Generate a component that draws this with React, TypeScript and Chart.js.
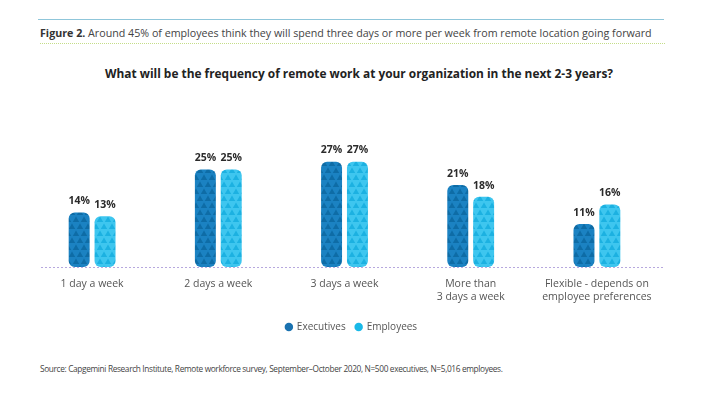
import React, { useEffect, useRef } from "react";
import { Chart, registerables } from "chart.js";

Chart.register(...registerables);

const categories: (string | string[])[] = [
  "1 day a week",
  "2 days a week",
  "3 days a week",
  ["More than", "3 days a week"],
  ["Flexible - depends on", "employee preferences"],
];
const executives = [14, 25, 27, 21, 11];
const employees = [13, 25, 27, 18, 16];
const seriesNames = ["Executives", "Employees"];

const FONT = "'Open Sans', 'Noto Sans', sans-serif";
const EXEC_COLOR = "#1b82c2";
const EXEC_TRI = "#0e6ca6";
const EMP_COLOR = "#3ec6ef";
const EMP_TRI = "#1cb1e1";

function makePattern(base: string, tri: string): CanvasPattern | string {
  const c = document.createElement("canvas");
  c.width = 8;
  c.height = 14;
  const ctx = c.getContext("2d");
  if (!ctx) return base;
  ctx.fillStyle = base;
  ctx.fillRect(0, 0, 8, 14);
  ctx.fillStyle = tri;
  const tri1 = (cx: number, top: number) => {
    ctx.beginPath();
    ctx.moveTo(cx - 3.2, top + 6);
    ctx.lineTo(cx, top + 0.5);
    ctx.lineTo(cx + 3.2, top + 6);
    ctx.closePath();
    ctx.fill();
  };
  tri1(4, 0);
  tri1(0, 7);
  tri1(8, 7);
  const p = ctx.createPattern(c, "repeat");
  return p || base;
}

const labelPlugin = {
  id: "valueLabels",
  afterDatasetsDraw(chart: any) {
    const ctx = chart.ctx;
    ctx.save();
    ctx.font = `bold 10.5px ${FONT}`;
    ctx.fillStyle = "#2b2b2b";
    ctx.textAlign = "center";
    ctx.textBaseline = "bottom";
    chart.data.datasets.forEach((ds: any, i: number) => {
      const meta = chart.getDatasetMeta(i);
      meta.data.forEach((el: any, j: number) => {
        ctx.fillText(ds.data[j] + "%", el.x, el.y - 6);
      });
    });
    ctx.restore();
  },
};

const baselinePlugin = {
  id: "baseline",
  beforeDatasetsDraw(chart: any) {
    const { ctx, chartArea, scales } = chart;
    const y = Math.round(scales.y.getPixelForValue(0)) + 0.5;
    ctx.save();
    ctx.strokeStyle = "#b7a8de";
    ctx.lineWidth = 1;
    ctx.setLineDash([2, 2]);
    ctx.beginPath();
    ctx.moveTo(chartArea.left + 12, y);
    ctx.lineTo(chartArea.right + 3, y);
    ctx.stroke();
    ctx.restore();
  },
};

const legendShiftPlugin = {
  id: "legendShift",
  afterLayout(chart: any) {
    if (chart.legend) {
      chart.legend.left += 7;
      chart.legend.right += 7;
    }
  },
};

function BarChart() {
  const ref = useRef<HTMLCanvasElement>(null);
  useEffect(() => {
    if (!ref.current) return;
    const execPattern = makePattern(EXEC_COLOR, EXEC_TRI);
    const empPattern = makePattern(EMP_COLOR, EMP_TRI);
    const chart = new Chart(ref.current, {
      type: "bar",
      data: {
        labels: categories,
        datasets: [
          {
            label: seriesNames[0],
            data: executives,
            backgroundColor: execPattern as any,
            borderRadius: 6,
            borderSkipped: false,
            categoryPercentage: 0.41,
            barPercentage: 0.81,
          },
          {
            label: seriesNames[1],
            data: employees,
            backgroundColor: empPattern as any,
            borderRadius: 6,
            borderSkipped: false,
            categoryPercentage: 0.41,
            barPercentage: 0.81,
          },
        ],
      },
      options: {
        animation: false,
        responsive: true,
        maintainAspectRatio: false,
        layout: { padding: { left: 29, right: 54, top: 60, bottom: 8 } },
        scales: {
          x: {
            grid: { display: false },
            border: { display: false },
            ticks: {
              color: "#555",
              font: { family: FONT, size: 10.5, lineHeight: 1.25 },
              padding: 2,
              maxRotation: 0,
              autoSkip: false,
            },
            afterFit: (s: any) => {
              s.height = 45;
            },
          },
          y: {
            display: false,
            min: 0,
            max: 30,
          },
        },
        plugins: {
          legend: {
            position: "bottom",
            labels: {
              usePointStyle: true,
              pointStyle: "circle",
              boxWidth: 6,
              boxHeight: 6,
              padding: 10,
              color: "#555",
              font: { family: FONT, size: 10 },
              generateLabels: (chart: any) => {
                const items = Chart.defaults.plugins.legend.labels.generateLabels(chart);
                const cols = ["#1a72b0", "#19b9e8"];
                return items.map((it: any, i: number) => ({
                  ...it,
                  fillStyle: cols[i],
                  strokeStyle: cols[i],
                  lineWidth: 0,
                }));
              },
            },
          },
          tooltip: { enabled: false },
        },
      },
      plugins: [labelPlugin, baselinePlugin, legendShiftPlugin],
    });
    return () => chart.destroy();
  }, []);
  return <canvas ref={ref} />;
}

export default function App() {
  return (
    <div
      style={{
        position: "absolute",
        left: 0,
        top: 0,
        width: 714,
        height: 396,
        background: "#fff",
        fontFamily: FONT,
        overflow: "hidden",
      }}
    >
      <div
        style={{
          position: "absolute",
          left: 38,
          top: 19,
          width: 626,
          height: 0,
          borderTop: "1.5px solid #8fc6da",
        }}
      />
      <div
        style={{
          position: "absolute",
          left: 40,
          top: 25,
          fontSize: 10.7,
          color: "#444",
          whiteSpace: "nowrap",
          lineHeight: "16px",
        }}
      >
        <b style={{ color: "#333" }}>Figure 2.</b> Around 45% of employees think they will spend three days or more per
        week from remote location going forward
      </div>
      <div
        style={{
          position: "absolute",
          left: 40,
          top: 43,
          width: 625,
          height: 0,
          borderTop: "1.5px dotted #c4dd88",
        }}
      />
      <div
        style={{
          position: "absolute",
          left: 0,
          width: 718,
          top: 64,
          textAlign: "center",
          fontSize: 11.9,
          fontWeight: "bold",
          color: "#222",
          lineHeight: "19px",
          whiteSpace: "nowrap",
        }}
      >
        What will be the frequency of remote work at your organization in the next 2-3 years?
      </div>
      <div style={{ position: "absolute", left: 0, top: 90, width: 714, height: 260 }}>
        <BarChart />
      </div>
      <div
        style={{
          position: "absolute",
          left: 40,
          top: 362,
          fontSize: 8.3,
          letterSpacing: "-0.35px",
          color: "#444",
          whiteSpace: "nowrap",
          lineHeight: "14px",
        }}
      >
        Source: Capgemini Research Institute, Remote workforce survey, September–October 2020, N=500 executives, N=5,016
        employees.
      </div>
    </div>
  );
}
